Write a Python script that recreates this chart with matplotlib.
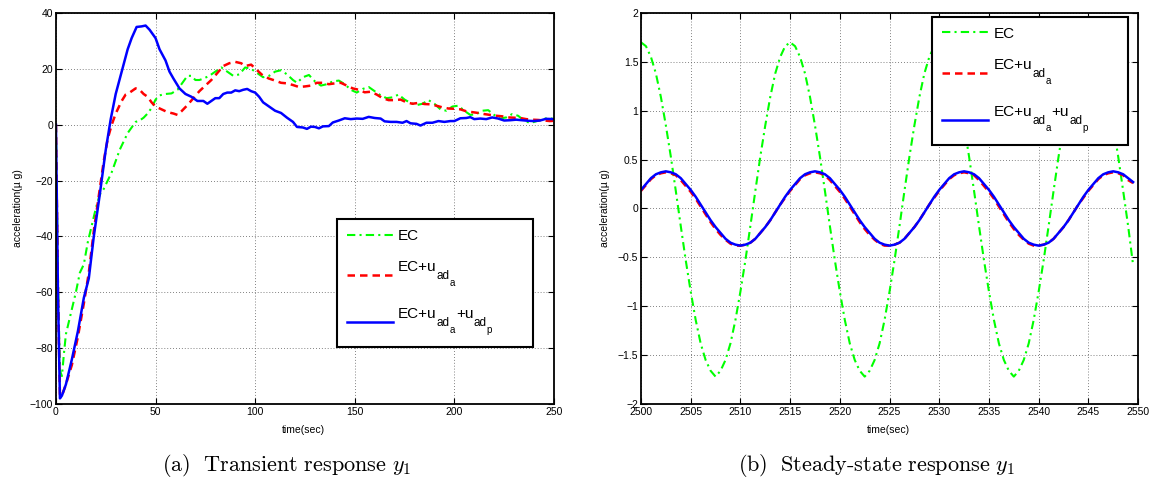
import matplotlib
matplotlib.use("Agg")
import matplotlib.pyplot as plt
from matplotlib.font_manager import FontProperties
from matplotlib.ticker import FuncFormatter

plt.rcParams['font.family'] = ['Liberation Sans', 'DejaVu Sans']

# ---- transient response (left) ----
t_ec = [0, 1, 2, 3, 4, 5, 6, 8, 10, 12, 14, 16, 18, 20, 22, 24, 26, 28, 30, 32, 34, 36, 38, 40,
        42, 44, 46, 48, 50, 52, 55, 58, 61, 63, 66, 68, 70, 72, 74, 77, 80, 83, 86, 89, 92, 95,
        98, 101, 104, 107, 110, 113, 116, 119, 121, 124, 127, 130, 133, 136, 139, 142, 145, 148,
        151, 154, 157, 160, 163, 166, 169, 172, 175, 178, 181, 184, 187, 190, 193, 196, 199, 202,
        205, 208, 211, 214, 217, 220, 223, 226, 229, 232, 235, 238, 241, 244, 247, 250]
y_ec = [0, -55, -88, -90, -82, -75, -72, -66, -60, -53, -50, -42, -36, -30, -25, -23, -20, -17,
        -13, -9, -6, -3, -1, 1, 1.5, 2.5, 4, 6, 9, 10.5, 11, 11.2, 12.5, 14.5, 17.5, 17.5, 16, 16,
        16.5, 17.5, 19, 20.5, 19, 17.5, 18, 20.5, 20, 18.5, 17, 17.5, 19, 19.5, 18, 16, 15, 17,
        17.8, 15.5, 14, 14.5, 15.5, 15.8, 14.5, 12.5, 11.5, 12.8, 13.5, 12, 10.5, 9.5, 9.8, 10.8,
        9, 7.8, 7, 7.5, 8.8, 7.5, 5.5, 5, 6.5, 6.8, 5, 3.5, 3.8, 5, 5.2, 3.5, 2.2, 2.6, 3.8, 3.2,
        1.5, 0.6, 1.2, 1.8, 2.5, 2]

t_eca = [0, 1, 2, 3, 5, 8, 11, 14, 16.5, 19, 22, 24, 26, 28, 30, 33, 35, 37, 40, 42, 44, 46, 48,
         50, 53, 56, 59, 61, 63, 66, 69, 72, 75, 78, 81, 84, 87, 90, 93, 95, 98, 101, 104, 107,
         110, 113, 116, 119, 122, 125, 128, 131, 134, 137, 140, 143, 146, 149, 152, 155, 158, 161,
         164, 167, 170, 173, 176, 179, 182, 185, 188, 191, 194, 197, 200, 203, 206, 209, 212, 215,
         218, 221, 224, 227, 230, 233, 236, 239, 242, 245, 248, 250]
y_eca = [0, -60, -97, -97, -93, -86, -76, -64, -53, -38, -23, -13, -5, 0, 4, 8.5, 10.8, 11.5, 13,
         12.5, 11, 10, 8, 6.5, 5.5, 4.5, 4, 3.5, 4.8, 7, 9.5, 12, 14, 16, 18.5, 21, 22, 22.5, 22,
         21, 21.5, 19.5, 17.5, 16.5, 15.8, 15, 14.8, 14.2, 13.5, 13.7, 14, 15, 15, 14.5, 14.8, 15,
         14, 13, 12.5, 11.6, 11.8, 10.8, 9.5, 8.8, 8.8, 9, 8, 7.5, 7.8, 7.4, 7.3, 6.8, 6.2, 5.8,
         5.7, 5.5, 4.8, 4.5, 4.2, 3.8, 3.5, 3.2, 3, 2.6, 2.5, 2.4, 2, 1.8, 1.7, 1.5, 1.3, 1.4]

t_ecap = [0, 1, 2, 3, 5, 8, 11, 14, 16.5, 19, 22, 25, 27.5, 30, 33, 36, 38, 40.5, 43, 45, 47, 50,
          52, 55, 57, 59, 62, 65, 68, 71, 74, 76, 78, 80, 82, 84, 86, 88, 90, 92, 94, 96, 98, 100,
          102, 104, 107, 110, 113, 116, 119, 121, 124, 126, 128, 130, 132, 134, 137, 139, 142, 145,
          148, 151, 154, 157, 160, 163, 165, 168, 171, 174, 176, 178, 181, 183, 186, 189, 192, 195,
          198, 200, 203, 206, 208, 210, 213, 216, 219, 222, 225, 228, 231, 234, 237, 240, 243, 246,
          250]
y_ecap = [0, -60, -98, -97, -93, -84, -74, -62, -55, -40, -25, -9, 2, 11, 19, 27, 31, 35, 35.2,
          35.5, 34, 31, 27, 23, 19, 16.5, 13, 11, 10, 8.5, 8.5, 7.5, 8.5, 9.5, 9.5, 11, 11.5, 11.5,
          12.3, 12, 12.5, 12.8, 12, 11.5, 10, 8, 6.5, 5, 4.2, 2.5, 1, -0.8, -1, -1.5, -0.7, -0.8,
          -1.3, -0.6, -0.5, 0.8, 1.5, 2.3, 2, 2.2, 2.1, 2.8, 2.4, 2.2, 1.2, 1, 1, 0.7, 1.3, 0.5,
          0.3, -0.3, 0.7, 0.7, 1.3, 1, 1.3, 1.3, 2.3, 2.4, 2.7, 2, 2.2, 2, 2.6, 2.2, 1.5, 1.6, 1.8,
          1.6, 1.4, 1.3, 1.5, 2.1, 2]

# ---- steady-state response (right), 0.5 s samples ----
t_ss = [2500 + 0.5 * i for i in range(100)]
y_ss_ec = [1.70, 1.66, 1.55, 1.38, 1.14, 0.85, 0.53, 0.18, -0.18, -0.53, -0.85, -1.14, -1.38,
           -1.55, -1.66, -1.72, -1.66, -1.55, -1.38, -1.14, -0.85, -0.53, -0.18, 0.18, 0.53,
           0.85, 1.14, 1.38, 1.55, 1.66,
           1.70, 1.66, 1.55, 1.38, 1.14, 0.85, 0.53, 0.18, -0.18, -0.53, -0.85, -1.14, -1.38,
           -1.55, -1.66, -1.72, -1.66, -1.55, -1.38, -1.14, -0.85, -0.53, -0.18, 0.18, 0.53,
           0.85, 1.14, 1.38, 1.55, 1.66,
           1.70, 1.66, 1.55, 1.38, 1.14, 0.85, 0.53, 0.18, -0.18, -0.53, -0.85, -1.14, -1.38,
           -1.55, -1.66, -1.72, -1.66, -1.55, -1.38, -1.14, -0.85, -0.53, -0.18, 0.18, 0.53,
           0.85, 1.14, 1.38, 1.55, 1.66,
           1.70, 1.66, 1.55, 1.38, 1.14, 0.85, 0.53, 0.18, -0.18, -0.58]
y_ss_ecap = [0.19, 0.25, 0.31, 0.35, 0.37, 0.38, 0.37, 0.35, 0.31, 0.25, 0.19, 0.12, 0.04,
             -0.04, -0.12, -0.19, -0.25, -0.31, -0.35, -0.37, -0.38, -0.37, -0.35, -0.31, -0.25,
             -0.19, -0.12, -0.04, 0.04, 0.12,
             0.19, 0.25, 0.31, 0.35, 0.37, 0.38, 0.37, 0.35, 0.31, 0.25, 0.19, 0.12, 0.04,
             -0.04, -0.12, -0.19, -0.25, -0.31, -0.35, -0.37, -0.38, -0.37, -0.35, -0.31, -0.25,
             -0.19, -0.12, -0.04, 0.04, 0.12,
             0.19, 0.25, 0.31, 0.35, 0.37, 0.38, 0.37, 0.35, 0.31, 0.25, 0.19, 0.12, 0.04,
             -0.04, -0.12, -0.19, -0.25, -0.31, -0.35, -0.37, -0.38, -0.37, -0.35, -0.31, -0.25,
             -0.19, -0.12, -0.04, 0.04, 0.12,
             0.19, 0.25, 0.31, 0.35, 0.37, 0.38, 0.37, 0.35, 0.31, 0.27]
y_ss_eca = [0.18, 0.24, 0.30, 0.34, 0.36, 0.37, 0.36, 0.34, 0.29, 0.23, 0.17, 0.10, 0.02,
            -0.06, -0.14, -0.21, -0.27, -0.32, -0.36, -0.38, -0.38, -0.37, -0.35, -0.31, -0.25,
            -0.19, -0.12, -0.04, 0.04, 0.11,
            0.18, 0.24, 0.30, 0.34, 0.36, 0.37, 0.36, 0.34, 0.29, 0.23, 0.17, 0.10, 0.02,
            -0.06, -0.14, -0.21, -0.27, -0.32, -0.36, -0.38, -0.38, -0.37, -0.35, -0.31, -0.25,
            -0.19, -0.12, -0.04, 0.04, 0.11,
            0.18, 0.24, 0.30, 0.34, 0.36, 0.37, 0.36, 0.34, 0.29, 0.23, 0.17, 0.10, 0.02,
            -0.06, -0.14, -0.21, -0.27, -0.32, -0.36, -0.38, -0.38, -0.37, -0.35, -0.31, -0.25,
            -0.19, -0.12, -0.04, 0.04, 0.11,
            0.18, 0.24, 0.30, 0.34, 0.36, 0.37, 0.36, 0.34, 0.29, 0.26]

# legend labels: main text, then (text, level) pieces; level 0 = baseline, 1 = sub, 2 = subsub
labels = ["EC", "EC+u\n ", "EC+u\n "]
label_tails = [[], [("ad", 1), ("a", 2)], [("ad", 1), ("a", 2), ("+u", 0), ("ad", 1), ("p", 2)]]
captions = [r"$\mathrm{(a)\ \ Transient\ response}\ y_1$",
            r"$\mathrm{(b)\ \ Steady\text{-}state\ response}\ y_1$"]


def style_axes(ax):
    for s in ax.spines.values():
        s.set_linewidth(1.3)
    ax.tick_params(direction='in', top=True, right=True, length=4, width=0.8,
                   labelsize=7.5, pad=2)
    ax.grid(True, linestyle=(0, (1, 2.5)), color='0.35', linewidth=0.6)
    ax.set_xlabel("time(sec)", fontsize=7.5)
    ax.set_ylabel("acceleration(\u00b5 g)", fontsize=7.5)


def draw(ax, t1, y1, t2, y2, t3, y3):
    ax.plot(t1, y1, color='#00ff00', linestyle=(0, (4, 2, 1, 2)), linewidth=1.5, label=labels[0])
    ax.plot(t2, y2, color='#ff0000', linestyle=(0, (3, 2)), linewidth=1.8, label=labels[1])
    ax.plot(t3, y3, color='#0000ff', linestyle='-', linewidth=1.8, label=labels[2])


def add_tails(ax, leg):
    # MATLAB-like nested subscripts after the legend label text
    sizes = {0: 11, 1: 8.5, 2: 7}
    drops = {0: -8, 1: -14, 2: -19}
    for txt, tail in zip(leg.get_texts(), label_tails):
        prev = txt
        for piece, level in tail:
            prev = ax.annotate(piece, xy=(1, 1), xycoords=(prev, txt),
                               xytext=(0.2, drops[level]), textcoords='offset points',
                               fontsize=sizes[level], va='baseline', ha='left',
                               annotation_clip=False, zorder=6)


fig = plt.figure(figsize=(11.56, 4.79), dpi=100)
ax1 = fig.add_axes([0.0484, 0.1566, 0.4308, 0.8163])
ax2 = fig.add_axes([0.5545, 0.1566, 0.4300, 0.8163])

draw(ax1, t_ec, y_ec, t_eca, y_eca, t_ecap, y_ecap)
ax1.set_xlim(0, 250)
ax1.set_ylim(-100, 40)
ax1.set_xticks(range(0, 251, 50))
ax1.set_yticks(range(-100, 41, 20))

draw(ax2, t_ss, y_ss_ec, t_ss, y_ss_eca, t_ss, y_ss_ecap)
ax2.set_xlim(2500, 2550)
ax2.set_ylim(-2, 2)
ax2.set_xticks(range(2500, 2551, 5))
ax2.set_yticks([-2, -1.5, -1, -0.5, 0, 0.5, 1, 1.5, 2])
ax2.yaxis.set_major_formatter(FuncFormatter(lambda v, p: ('%g' % v).replace('-', '\u2212')))

legfont = FontProperties(family='Liberation Sans', size=11)
setups = [(ax1, 'lower left', (0.564, 0.146, 0.394, 0.5), -0.066, 0.248, captions[0]),
          (ax2, 'upper left', (0.586, 0.0, 0.394, 0.99), -0.062, 0.758, captions[1])]
for ax, loc, anchor, ylx, capx, cap in setups:
    style_axes(ax)
    ax.yaxis.set_label_coords(ylx, 0.5)
    ax.xaxis.set_label_coords(0.497, -0.054)
    leg = ax.legend(loc=loc, bbox_to_anchor=anchor, mode='expand', prop=legfont, frameon=True,
                    fancybox=False, handlelength=3.0, handletextpad=0.35, labelspacing=1.1,
                    borderpad=0.65, borderaxespad=0)
    fr = leg.get_frame()
    fr.set_edgecolor('black')
    fr.set_linewidth(1.5)
    fr.set_alpha(1)
    add_tails(ax, leg)
    fig.text(capx, 0.029, cap, ha='center', va='center', fontsize=16, math_fontfamily='cm')

fig.savefig("out.png", dpi=100, facecolor='white')
